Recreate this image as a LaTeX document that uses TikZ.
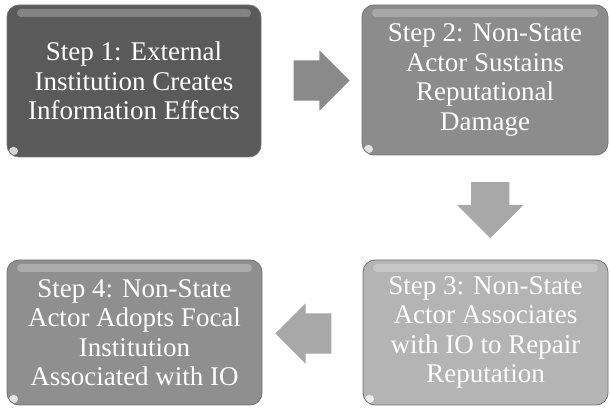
\documentclass[tikz,border=0pt]{standalone}
\usepackage{fontspec}
\setmainfont{Liberation Serif}
\usetikzlibrary{shapes.arrows,calc}

\definecolor{boxdark}{HTML}{5A5A5A}
\definecolor{boxmid}{HTML}{8C8C8C}
\definecolor{boxmidb}{HTML}{8F8F8F}
\definecolor{boxlight}{HTML}{B4B4B4}
\definecolor{arrowmid}{HTML}{8A8A8A}
\definecolor{arrowlight}{HTML}{A8A8A8}

\tikzset{
  stepbox/.style={rounded corners=12pt, draw=black!55, line width=.8pt,
    align=center, text=white, inner sep=0pt,
    font=\fontsize{27}{29.5}\selectfont,
    path picture={
      \fill[white,opacity=.25,rounded corners=4pt]
        ([xshift=10pt,yshift=-4pt]path picture bounding box.north west) rectangle
        ([xshift=-10pt,yshift=-12pt]path picture bounding box.north east);
      \fill[white,opacity=.75,rounded corners=4pt]
        ([xshift=2pt,yshift=2pt]path picture bounding box.south west) rectangle
        ([xshift=11pt,yshift=10pt]path picture bounding box.south west);
    }},
  blockarrow/.style={single arrow, draw=none, inner xsep=0pt, inner ysep=20pt,
    minimum height=56pt, single arrow head extend=10pt}
}

\begin{document}
\begin{tikzpicture}[x=1pt,y=1pt]
\useasboundingbox (0,0) rectangle (610,412);

% the four steps
\node[stepbox, fill=boxdark, minimum width=254pt, minimum height=152pt] (step1) at (134,331)
  {Step 1: External\\Institution Creates\\Information Effects};
\node[stepbox, fill=boxmid, minimum width=246pt, minimum height=150pt] (step2) at (485,332)
  {Step 2: Non-State\\Actor Sustains\\Reputational\\Damage};
\node[stepbox, fill=boxlight, minimum width=245pt, minimum height=145pt] (step3) at (485.5,79.5)
  {Step 3: Non-State\\Actor Associates\\with IO to Repair\\Reputation};
\node[stepbox, fill=boxmidb, minimum width=255pt, minimum height=145pt] (step4) at (134.5,79.5)
  {Step 4: Non-State\\Actor Adopts Focal\\Institution\\Associated with IO};

% arrows between them
\node[blockarrow, fill=arrowmid] (arr12) at ($(step1.east)!.5!(step2.west)$) {};
\node[blockarrow, fill=arrowlight, shape border rotate=270, inner xsep=19pt, inner ysep=0pt,
  single arrow head extend=14pt] (arr23)
  at ($(step2.south)!.5!(step3.north)+(5,7)$) {};
\node[blockarrow, fill=arrowlight, shape border rotate=180] (arr34)
  at ($(step3.west)!.5!(step4.east)+(1,-1)$) {};
\end{tikzpicture}
\end{document}
